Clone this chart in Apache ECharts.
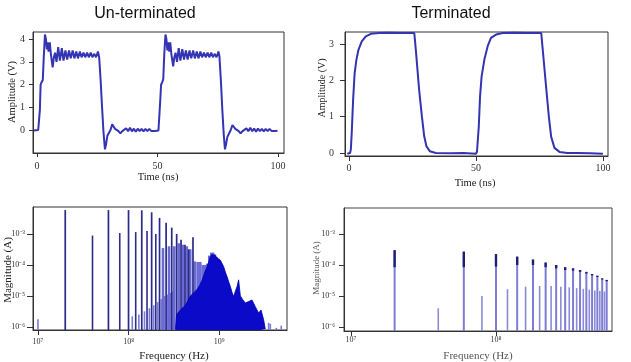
<!DOCTYPE html>
<html><head><meta charset="utf-8">
<script src="https://cdn.jsdelivr.net/npm/echarts@6/dist/echarts.min.js"></script>
<style>html,body{margin:0;padding:0;background:#fff}#c{width:631px;height:362px}</style>
</head><body><div id="c"></div>
<script>
// ---------- tick labels ----------
const timeTicks = [0, 50, 100];
const untermAmpTicks = [0, 1, 2, 3, 4];
const termAmpTicks = [0, 1, 2, 3];
const freqTicksLeft = [1e7, 1e8, 1e9];
const freqTicksRight = [1e7, 1e8];
const magTicks = [1e-6, 1e-5, 1e-4, 1e-3];

// ---------- time-domain traces [ns, V] ----------
const untermWave = [[-1.3,-0.02],[0.5,0.0],[0.9,0.05],[1.2,0.9],[1.5,2.0],[1.9,2.1],[2.4,2.2],[2.8,3.2],[3.3,4.2],[3.7,4.0],[4.1,3.55],[4.4,3.85],[4.8,3.45],[5.3,3.85],[5.8,3.3],[6.5,2.75],[7.0,3.2],[7.5,3.4],[8.1,3.0],[8.8,3.65],[9.5,3.05],[10.3,3.6],[11.0,3.05],[11.8,3.5],[12.5,3.1],[13.3,3.5],[14.0,3.15],[14.8,3.5],[15.5,3.15],[16.3,3.45],[17.0,3.15],[17.8,3.45],[18.5,3.2],[19.3,3.4],[20.0,3.2],[20.8,3.4],[21.5,3.2],[22.3,3.4],[23.0,3.2],[23.8,3.35],[24.5,3.2],[25.3,3.45],[25.8,3.2],[26.4,2.2],[27.0,1.0],[27.6,-0.1],[28.2,-0.85],[28.7,-0.6],[29.2,-0.25],[29.9,-0.2],[30.5,0.0],[31.2,0.25],[31.8,0.15],[32.4,0.05],[33.0,0.12],[33.8,-0.05],[34.6,-0.15],[35.4,-0.05],[36.2,-0.12],[37.0,0.08],[37.8,-0.05],[38.6,0.1],[39.4,-0.06],[40.2,0.06],[41.0,-0.08],[41.8,0.06],[42.6,-0.05],[43.4,0.05],[44.2,-0.06],[45.0,0.05],[45.8,-0.05],[46.6,0.05],[47.4,-0.04],[48.2,0.04],[49.0,-0.04],[49.8,0.03],[50.4,-0.02],
[50.8,0.05],[51.2,1.4],[51.5,2.0],[52.0,2.1],[52.4,2.25],[52.8,3.3],[53.3,4.2],[53.7,4.0],[54.1,3.5],[54.5,3.85],[54.9,3.45],[55.3,3.85],[55.8,3.3],[56.5,2.8],[57.0,3.2],[57.5,3.4],[58.1,3.0],[58.8,3.6],[59.5,3.05],[60.3,3.55],[61.0,3.1],[61.8,3.5],[62.5,3.1],[63.3,3.5],[64.0,3.15],[64.8,3.5],[65.5,3.15],[66.3,3.45],[67.0,3.15],[67.8,3.45],[68.5,3.2],[69.3,3.4],[70.0,3.2],[70.8,3.4],[71.5,3.2],[72.3,3.4],[73.0,3.2],[73.8,3.35],[74.5,3.2],[75.3,3.45],[75.7,3.25],[76.3,2.2],[76.9,0.9],[77.5,-0.2],[78.0,-0.85],[78.5,-0.6],[79.0,-0.3],[79.7,-0.15],[80.4,0.0],[81.1,0.22],[81.7,0.15],[82.3,0.05],[82.9,0.12],[83.7,-0.05],[84.5,-0.15],[85.3,-0.05],[86.1,-0.12],[86.9,0.07],[87.7,-0.05],[88.5,0.1],[89.3,-0.05],[90.1,0.06],[90.9,-0.07],[91.7,0.06],[92.5,-0.05],[93.3,0.05],[94.1,-0.06],[94.9,0.05],[95.7,-0.05],[96.5,0.05],[97.3,-0.04],[98.1,0.04],[98.9,-0.04],[99.8,-0.03]];

const termWave = [[-0.7,-0.02],[0.4,0.0],[0.7,0.1],[1.05,0.55],[1.6,1.47],[2.2,2.2],[2.9,2.57],[3.7,2.84],[5.0,3.07],[6.6,3.21],[8.6,3.28],[11.8,3.3],[15,3.31],[20,3.3],[25.7,3.3],[26.3,2.84],[27.6,1.74],[28.7,1.0],[29.6,0.46],[30.5,0.18],[31.8,0.05],[34.2,0.0],[40,-0.01],[45,0.0],[50.0,-0.02],[50.4,0.04],[51.1,0.73],[51.6,1.56],[52.2,2.1],[53.3,2.57],[54.6,2.94],[55.9,3.17],[57.9,3.26],[60.5,3.3],[65,3.31],[70,3.3],[75.7,3.3],[76.3,2.84],[77.6,1.83],[78.7,1.0],[79.6,0.45],[80.9,0.14],[82.9,0.03],[86,0.0],[90,0.0],[95,-0.01],[100,-0.02]];

// ---------- un-terminated spectrum [Hz, A] ----------
const utStrong = [[20e6,5.9e-3],[60e6,5.9e-3],[100e6,5.9e-3],[140e6,5.8e-3],[180e6,5.0e-3],[220e6,3.3e-3],[260e6,2.3e-3],[300e6,1.6e-3],[340e6,1.0e-3],[380e6,6.5e-4],[420e6,4.5e-4],[460e6,3.2e-4],[515e6,7.9e-4]];
const utMid = [[40e6,8.9e-4],[80e6,1.07e-3],[120e6,1.15e-3],[160e6,1.25e-3],[200e6,1.0e-3]];
const utLight = [[240e6,3.5e-4],[280e6,4.0e-4],[320e6,4.0e-4],[360e6,5.0e-4],[400e6,4.5e-4],[440e6,4.0e-4],[480e6,3.2e-4],[540e6,1.3e-4],[580e6,1.25e-4],[620e6,1.25e-4],[660e6,1.0e-4],[700e6,1.0e-4],[740e6,1.1e-4],[780e6,2.0e-4],[820e6,2.5e-4],[860e6,2.5e-4],[900e6,2.2e-4],[940e6,1.8e-4],[980e6,1.6e-4],[1020e6,1.4e-4],[1060e6,1.1e-4],[1100e6,8e-5],[1140e6,5e-5]];
const utSmall = [[10e6,1.78e-6],[110e6,2.2e-6],[130e6,2.5e-6],[150e6,3.2e-6],[170e6,4.0e-6],[190e6,5.0e-6],[210e6,6.3e-6],[230e6,7.9e-6],[250e6,1.0e-5],[270e6,1.1e-5],[290e6,1.26e-5],[310e6,1.4e-5],[3524e6,1.35e-6],[3680e6,1.26e-6],[4285e6,9.3e-7],[4860e6,1.1e-6]];
const utFloor = [[330e6,8.5e-7],[340e6,2.5e-6],[374e6,3.5e-6],[425e6,5.0e-6],[483e6,1.0e-5],[530e6,1.3e-5],[571e6,1.6e-5],[610e6,2.2e-5],[649e6,3.2e-5],[690e6,5.5e-5],[737e6,8.9e-5],[770e6,1.3e-4],[801e6,1.86e-4],[835e6,2.2e-4],[871e6,2.4e-4],[910e6,2.0e-4],[950e6,1.66e-4],[990e6,1.5e-4],[1033e6,1.41e-4],[1080e6,1.1e-4],[1122e6,8.9e-5],[1170e6,6e-5],[1224e6,4.2e-5],[1280e6,2.8e-5],[1333e6,2.0e-5],[1390e6,1.3e-5],[1450e6,9.5e-6],[1510e6,1.4e-5],[1578e6,2.0e-5],[1643e6,3.3e-5],[1717e6,1.0e-5],[1830e6,7.5e-6],[1950e6,5.9e-6],[2120e6,6.6e-6],[2310e6,7.4e-6],[2512e6,4.5e-6],[2735e6,2.8e-6],[2904e6,3.5e-6],[3105e6,1.7e-6],[3236e6,8.5e-7]];

// ---------- terminated spectrum [Hz, top A, dark-band bottom A] ----------
const tOdd = [[20e6,3.0e-4,8.5e-5],[60e6,2.7e-4,8.5e-5],[100e6,2.25e-4,8.9e-5],[140e6,1.86e-4,1.0e-4],[180e6,1.5e-4,1.0e-4],[220e6,1.2e-4,8.5e-5],[260e6,1.0e-4,7.8e-5],[300e6,8.5e-5,6.9e-5],[340e6,7.8e-5,6.6e-5],[380e6,6.9e-5,6.0e-5],[420e6,6.0e-5,5.3e-5],[460e6,5.1e-5,4.6e-5],[500e6,4.5e-5,4.1e-5],[540e6,3.7e-5,3.4e-5],[580e6,3.3e-5,3.0e-5]];
const tEven = [[40e6,4.0e-6],[80e6,1.0e-5],[120e6,1.66e-5],[160e6,2.0e-5],[200e6,2.1e-5],[240e6,2.1e-5],[280e6,2.0e-5],[320e6,1.9e-5],[360e6,1.8e-5],[400e6,1.7e-5],[440e6,1.6e-5],[480e6,1.5e-5],[520e6,1.45e-5],[560e6,1.4e-5]];

// ---------- layout ----------
const SER = 'Liberation Serif', SANS = 'Liberation Sans';
const BL = {xMin: Math.pow(10,6.945), xMax: Math.pow(10,9.75), yMin: Math.pow(10,-6.1), yMax: Math.pow(10,-2.13)};
const BR = {xMin: Math.pow(10,6.952), xMax: Math.pow(10,8.8), yMin: Math.pow(10,-6.13), yMax: Math.pow(10,-2.16)};
const SUP = {'0':'⁰','1':'¹','2':'²','3':'³','4':'⁴','5':'⁵','6':'⁶','7':'⁷','8':'⁸','9':'⁹','-':'⁻'};
function pow10Label(v){ const e = String(Math.round(Math.log10(v))); return '10' + e.split('').map(c=>SUP[c]).join(''); }

function mkAxis(o){
  const a = {
    type: o.type, gridIndex: o.g, min: o.min, max: o.max,
    axisLine: {show:true, onZero:false, lineStyle:{color:'#333', width:1}},
    axisTick: {show:true, inside:false, length:o.tl||4, customValues:o.ticks, lineStyle:{color:'#333'}},
    axisLabel: {customValues:o.ticks, fontFamily:SER, fontSize:o.fs||10, color:'#333', margin:o.m,
      formatter: o.fmt || (v => String(v))},
    splitLine: {show:false}, minorTick:{show:false}
  };
  if (o.type === 'log') a.logBase = 10;
  return a;
}

function stem(xi, color, width, data, z){
  return {type:'custom', xAxisIndex:xi, yAxisIndex:xi, data, clip:true, z: z||2, silent:true,
    renderItem(params, api){
      const p = api.coord([api.value(0), api.value(1)]);
      const b = api.coord([api.value(0), api.value(2)]);
      return {type:'line', shape:{x1:p[0], y1:p[1], x2:b[0], y2:b[1]}, style:{stroke:color, lineWidth:width}};
    }};
}
const toBase = (arr, base) => arr.map(d => [d[0], d[1], base]);
function label(x, y, text, font, fill, rot){
  return {type:'text', x, y, rotation: rot||0, style:{text, font, fill, align:'center', verticalAlign:'middle', textAlign:'center', textVerticalAlign:'middle'}};
}

const chart = echarts.init(document.getElementById('c'), null, {renderer:'canvas'});
const option = {
  backgroundColor:'#fff', animation:false,
  grid: [
    {left:33, top:32, width:251, height:121, show:true, borderColor:'#333', borderWidth:1},
    {left:345, top:32, width:263, height:124, show:true, borderColor:'#333', borderWidth:1},
    {left:33, top:207, width:254, height:123, show:true, borderColor:'#333', borderWidth:1},
    {left:344, top:208, width:268, height:123, show:true, borderColor:'#444', borderWidth:1}
  ],
  xAxis: [
    mkAxis({type:'value', g:0, min:-1.66, max:102.5, ticks:timeTicks, m:8}),
    mkAxis({type:'value', g:1, min:-1.6, max:102, ticks:timeTicks, m:7, tl:5}),
    mkAxis({type:'log', g:2, min:BL.xMin, max:BL.xMax, ticks:freqTicksLeft, m:8, fs:8, tl:5, fmt:pow10Label}),
    mkAxis({type:'log', g:3, min:BR.xMin, max:BR.xMax, ticks:freqTicksRight, m:5, fs:8, tl:5, fmt:pow10Label})
  ],
  yAxis: [
    mkAxis({type:'value', g:0, min:-1.01, max:4.31, ticks:untermAmpTicks, m:8}),
    mkAxis({type:'value', g:1, min:-0.083, max:3.33, ticks:termAmpTicks, m:11, tl:5}),
    mkAxis({type:'log', g:2, min:BL.yMin, max:BL.yMax, ticks:magTicks, m:8, fs:8, tl:6, fmt:pow10Label}),
    mkAxis({type:'log', g:3, min:BR.yMin, max:BR.yMax, ticks:magTicks, m:9, fs:8, tl:5, fmt:pow10Label})
  ],
  series: [
    {type:'line', xAxisIndex:0, yAxisIndex:0, data:untermWave, showSymbol:false, clip:true,
      lineStyle:{color:'#3434b4', width:2}},
    {type:'line', xAxisIndex:1, yAxisIndex:1, data:termWave, showSymbol:false, clip:true,
      lineStyle:{color:'#3434b0', width:2}},
    // un-terminated spectrum
    stem(2, '#7a7ad8', 1.6, toBase(utSmall, BL.yMin)),
    stem(2, '#6a6ad6', 2.6, toBase(utLight, BL.yMin)),
    stem(2, '#2d2d8c', 1.6, toBase(utMid, BL.yMin)),
    stem(2, '#2a2a88', 1.7, toBase(utStrong, BL.yMin)),
    {type:'line', xAxisIndex:2, yAxisIndex:2, data:utFloor, showSymbol:false, clip:true, z:3,
      lineStyle:{color:'#0000b0', width:0.8}, areaStyle:{color:'#0a0ac8', opacity:1, origin:'start'}},
    // terminated spectrum
    stem(3, '#8a8ad8', 1.6, toBase(tEven, BR.yMin)),
    stem(3, '#7c7cd4', 2.0, toBase(tOdd.map(d=>[d[0],d[1]]), BR.yMin)),
    stem(3, '#1e1e78', 2.4, tOdd.map(d=>[d[0], d[1], d[2]]), 3)
  ],
  graphic: [
    label(145, 14, 'Un-terminated', '16px '+SANS, '#111'),
    label(451, 14, 'Terminated', '16px '+SANS, '#111'),
    label(158, 177, 'Time (ns)', '10.5px '+SER, '#222'),
    label(475, 183, 'Time (ns)', '10.5px '+SER, '#222'),
    label(12, 92, 'Amplitude (V)', '10.5px '+SER, '#222', Math.PI/2),
    label(322, 88, 'Amplitude (V)', '10px '+SER, '#222', Math.PI/2),
    label(8, 270, 'Magnitude (A)', '11px '+SER, '#222', Math.PI/2),
    label(317, 268, 'Magnitude (A)', '9px '+SER, '#555', Math.PI/2),
    label(174, 356, 'Frequency (Hz)', '11px '+SER, '#222'),
    label(478, 356, 'Frequency (Hz)', '11px '+SER, '#555')
  ]
};
chart.setOption(option);
</script>
</body></html>
